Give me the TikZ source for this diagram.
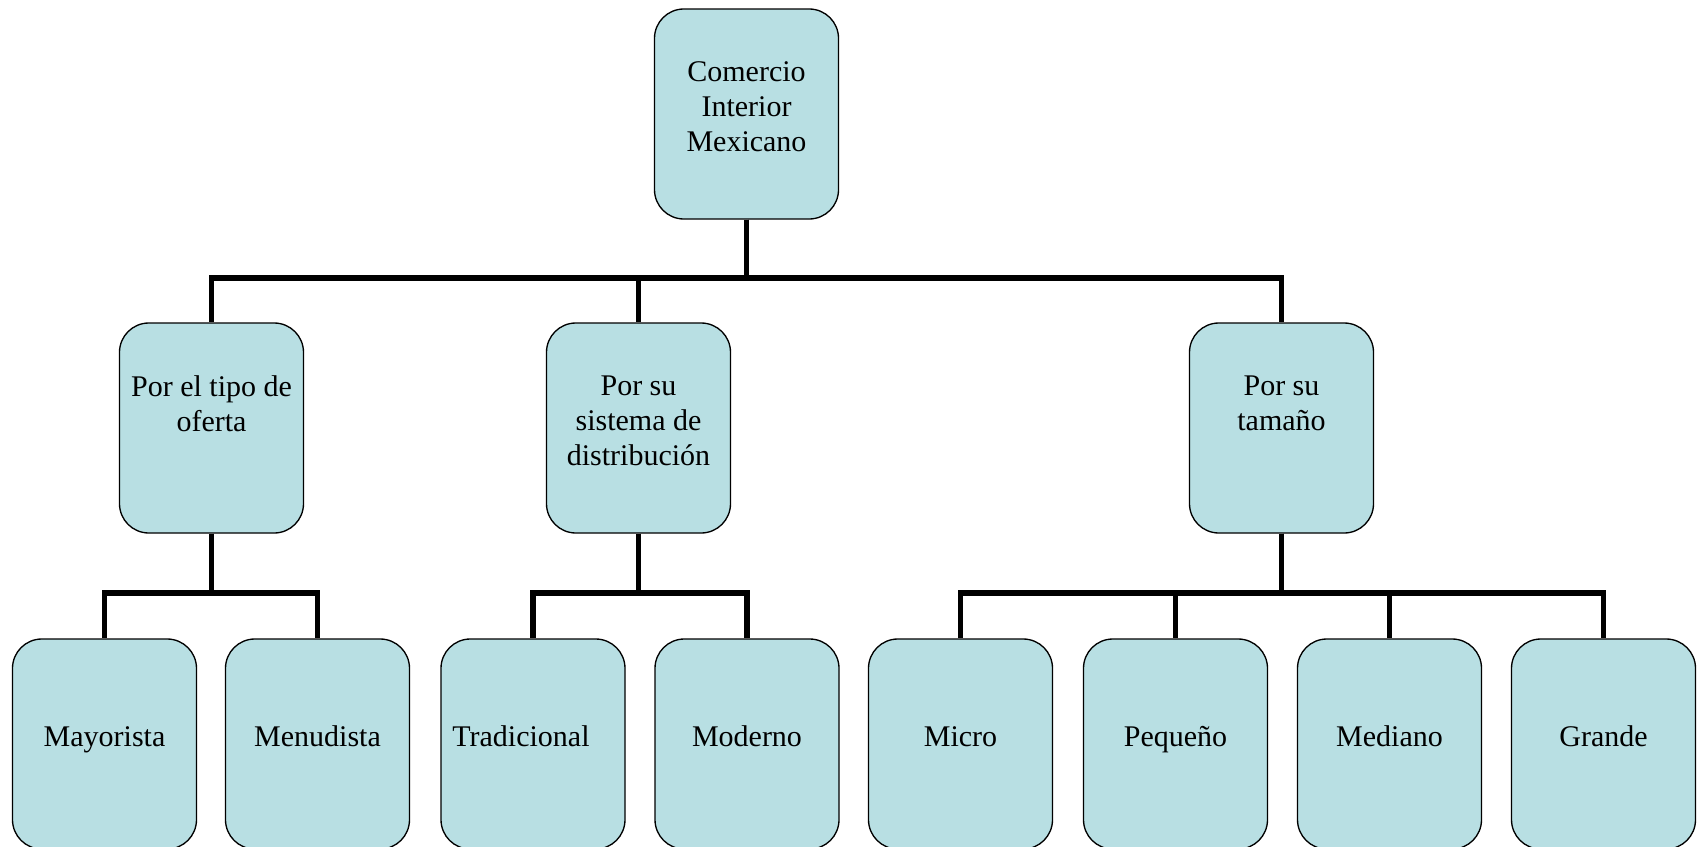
\documentclass[tikz,border=0pt]{standalone}
\usepackage{fontspec}
\setmainfont{Liberation Serif}
\definecolor{boxfill}{RGB}{184,223,227}
\begin{document}
\begin{tikzpicture}[x=0.75pt,y=-0.75pt,
  box/.style={draw=black,line width=1pt,fill=boxfill,rounded corners=22pt,
    minimum width=184*0.75pt,minimum height=210*0.75pt,inner sep=0pt},
  lbl/.style={align=center,inner sep=0pt,
    font=\fontsize{22.5}{26.3}\selectfont},
  conn/.style={draw=black,line width=3.8pt}]
\clip (0,0) rectangle (1706,846);
\fill[white] (0,0) rectangle (1706,846);
% boxes
\node[box] (top) at (746.5,114) {};
\node[box] (m1) at (211.5,428) {};
\node[box] (m2) at (638.5,428) {};
\node[box] (m3) at (1281.5,428) {};
\node[box] (b1) at (104.5,744) {};
\node[box] (b2) at (317.5,744) {};
\node[box] (b3) at (533,744) {};
\node[box] (b4) at (747,744) {};
\node[box] (b5) at (960.5,744) {};
\node[box] (b6) at (1175.5,744) {};
\node[box] (b7) at (1389.5,744) {};
\node[box] (b8) at (1603.5,744) {};
% texts
\node[lbl,anchor=north] (ttop) at (746.5,61.5) {Comercio\\Interior\\Mexicano};
\node[lbl,anchor=north] (tm1) at (211.5,375.5) {Por el tipo de\\oferta};
\node[lbl,anchor=north] (tm2) at (638.5,375.5) {Por su\\sistema de\\distribución};
\node[lbl,anchor=north] (tm3) at (1281.5,375.5) {Por su\\tamaño};
\node[lbl,anchor=base] (tb1) at (104.5,746) {Mayorista};
\node[lbl,anchor=base] (tb2) at (317.5,746) {Menudista};
\node[lbl,anchor=base] (tb3) at (521,746) {Tradicional};
\node[lbl,anchor=base] (tb4) at (747,746) {Moderno};
\node[lbl,anchor=base] (tb5) at (960.5,746) {Micro};
\node[lbl,anchor=base] (tb6) at (1175.5,746) {Pequeño};
\node[lbl,anchor=base] (tb7) at (1389.5,746) {Mediano};
\node[lbl,anchor=base] (tb8) at (1603.5,746) {Grande};
% bar levels
\coordinate (bar1) at (0,278);
\coordinate (bar2) at (0,593);
% connectors
\foreach \c in {m1,m2,m3}
  \draw[conn] (top.south) -- (top.south |- bar1) -| (\c.north);
\foreach \c in {b1,b2}
  \draw[conn] (m1.south) -- (m1.south |- bar2) -| (\c.north);
\foreach \c in {b3,b4}
  \draw[conn] (m2.south) -- (m2.south |- bar2) -| (\c.north);
\foreach \c in {b5,b6,b7,b8}
  \draw[conn] (m3.south) -- (m3.south |- bar2) -| (\c.north);
\end{tikzpicture}
\end{document}
